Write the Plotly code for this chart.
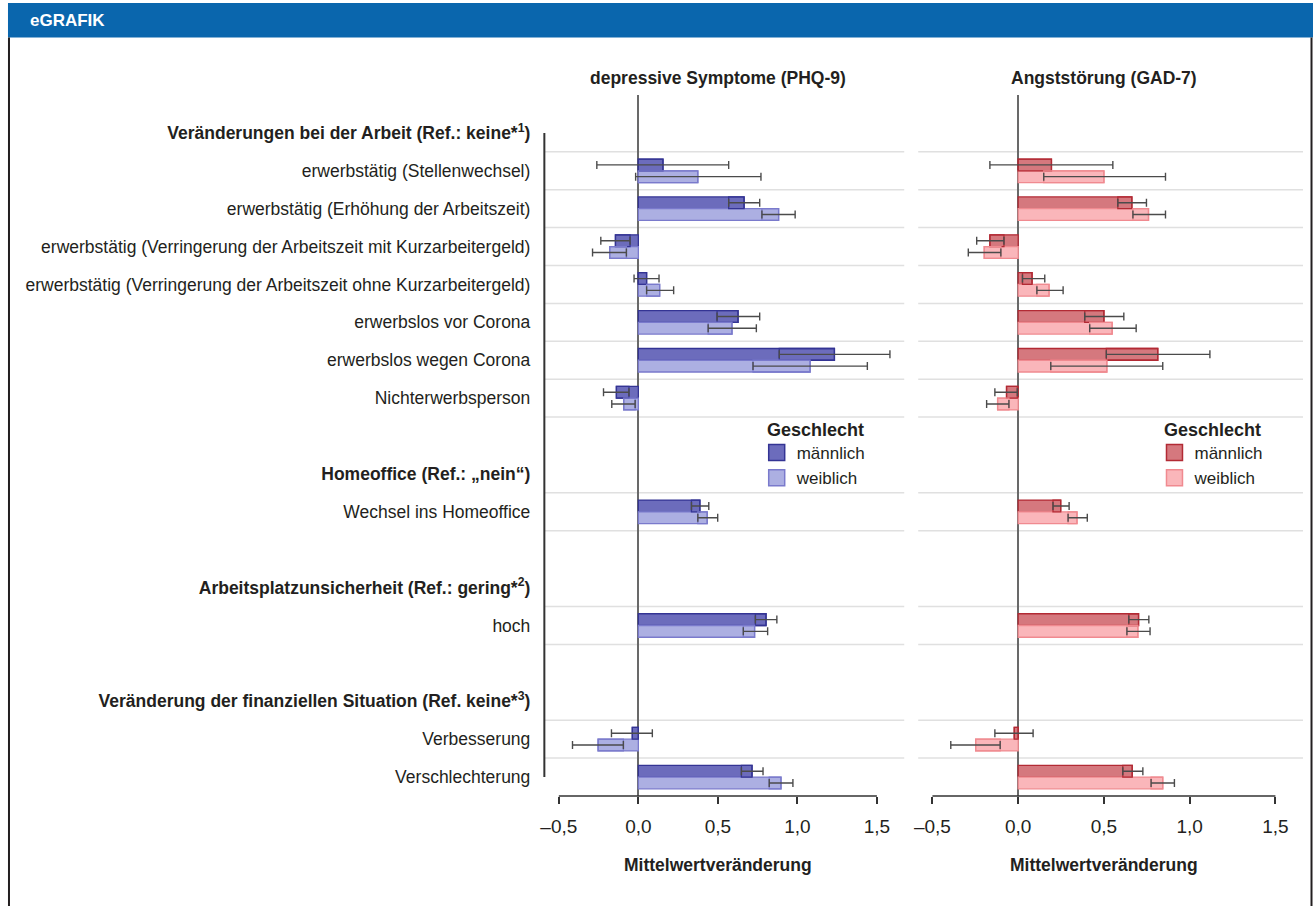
import plotly.graph_objects as go

W, H = 1313, 906

# ---------------- data ----------------
groups = [
    "<b>Veränderungen bei der Arbeit (Ref.: keine*<sup>1</sup>)</b>",
    "<b>Homeoffice (Ref.: „nein“)</b>",
    "<b>Arbeitsplatzunsicherheit (Ref.: gering*<sup>2</sup>)</b>",
    "<b>Veränderung der finanziellen Situation (Ref. keine*<sup>3</sup>)</b>",
]
categories = [
    "erwerbstätig (Stellenwechsel)",
    "erwerbstätig (Erhöhung der Arbeitszeit)",
    "erwerbstätig (Verringerung der Arbeitszeit mit Kurzarbeitergeld)",
    "erwerbstätig (Verringerung der Arbeitszeit ohne Kurzarbeitergeld)",
    "erwerbslos vor Corona",
    "erwerbslos wegen Corona",
    "Nichterwerbsperson",
    "Wechsel ins Homeoffice",
    "hoch",
    "Verbesserung",
    "Verschlechterung",
]
category_group = [0, 0, 0, 0, 0, 0, 0, 1, 2, 3, 3]

# PHQ-9 (depressive Symptome)
phq_m = [0.155, 0.665, -0.144, 0.052, 0.627, 1.233, -0.138, 0.387, 0.803, -0.038, 0.715]
phq_m_lo = [-0.261, 0.568, -0.236, -0.027, 0.495, 0.886, -0.219, 0.334, 0.736, -0.169, 0.648]
phq_m_hi = [0.568, 0.763, -0.052, 0.130, 0.763, 1.582, -0.059, 0.443, 0.871, 0.088, 0.784]
phq_w = [0.374, 0.882, -0.180, 0.134, 0.589, 1.080, -0.092, 0.433, 0.731, -0.253, 0.897]
phq_w_lo = [-0.017, 0.777, -0.288, 0.052, 0.439, 0.721, -0.167, 0.374, 0.660, -0.414, 0.823]
phq_w_hi = [0.771, 0.986, -0.075, 0.222, 0.742, 1.440, -0.020, 0.499, 0.813, -0.094, 0.972]

# GAD-7 (Angststörung)
gad_m = [0.194, 0.663, -0.165, 0.081, 0.500, 0.814, -0.068, 0.248, 0.702, -0.023, 0.665]
gad_m_lo = [-0.165, 0.581, -0.242, 0.025, 0.388, 0.514, -0.136, 0.203, 0.645, -0.136, 0.610]
gad_m_hi = [0.552, 0.748, -0.083, 0.155, 0.616, 1.118, -0.005, 0.297, 0.762, 0.087, 0.727]
gad_w = [0.500, 0.760, -0.198, 0.180, 0.548, 0.517, -0.120, 0.343, 0.698, -0.248, 0.843]
gad_w_lo = [0.149, 0.669, -0.291, 0.109, 0.417, 0.190, -0.184, 0.291, 0.634, -0.393, 0.775]
gad_w_hi = [0.859, 0.859, -0.101, 0.262, 0.688, 0.843, -0.054, 0.403, 0.769, -0.105, 0.911]

panel_titles = ["depressive Symptome (PHQ-9)", "Angststörung (GAD-7)"]
x_tickvals = [-0.5, 0.0, 0.5, 1.0, 1.5]
x_ticktext = ["–0,5", "0,0", "0,5", "1,0", "1,5"]
x_title = "Mittelwertveränderung"
legend_title = "Geschlecht"
sex_names = ["männlich", "weiblich"]

# ---------------- build row layout (heading, items, blank) ----------------
row_text, cat_row = [], []
for gi, g in enumerate(groups):
    if gi > 0:
        row_text.append("")
    row_text.append(g)
    for ci, c in enumerate(categories):
        if category_group[ci] == gi:
            cat_row.append(len(row_text))
            row_text.append(c)
n_rows = len(row_text)
label_rows = [i for i, t in enumerate(row_text) if t]
label_text = [row_text[i] for i in label_rows]

FONT = "Liberation Sans, Arial, Helvetica, sans-serif"
TXT = "#231f20"
BW = 0.31

colors = {
    1: dict(m_fill="rgb(108,108,188)", m_line="rgb(52,52,148)",
            w_fill="rgb(172,175,226)", w_line="rgb(122,122,204)"),
    2: dict(m_fill="rgb(213,120,126)", m_line="rgb(178,42,52)",
            w_fill="rgb(250,182,186)", w_line="rgb(240,138,144)"),
}

fig = go.Figure()

def add_panel(p, m, mlo, mhi, w, wlo, whi):
    xa = "x" if p == 1 else "x2"
    ya = "y" if p == 1 else "y2"
    lg = "legend" if p == 1 else "legend2"
    c = colors[p]
    series = [
        (sex_names[0], m, mlo, mhi, -BW, c["m_fill"], c["m_line"]),
        (sex_names[1], w, wlo, whi, 0.0, c["w_fill"], c["w_line"]),
    ]
    for name, mean, lo, hi, off, fill, line in series:
        fig.add_trace(go.Bar(
            orientation="h", y=cat_row, x=mean, offset=off, width=BW,
            marker=dict(color=fill, line=dict(color=line, width=1.3)),
            name=name, showlegend=False, xaxis=xa, yaxis=ya, hoverinfo="skip"))
    for name, mean, lo, hi, off, fill, line in series:
        inner = [max(l, 0) if v >= 0 else min(h, 0) for v, l, h in zip(mean, lo, hi)]
        fig.add_trace(go.Bar(
            orientation="h", y=cat_row, x=[v - i for v, i in zip(mean, inner)], base=inner,
            offset=off, width=BW,
            marker=dict(color="rgba(0,0,0,0)", line=dict(color=line, width=1.3)),
            showlegend=False, xaxis=xa, yaxis=ya, hoverinfo="skip"))
        fig.add_trace(go.Scatter(
            x=mean, y=[r + off + BW / 2 for r in cat_row], mode="markers",
            marker=dict(size=1, color="rgba(0,0,0,0)"),
            error_x=dict(type="data", symmetric=False,
                         array=[h - v for v, h in zip(mean, hi)],
                         arrayminus=[v - l for v, l in zip(mean, lo)],
                         color="rgb(75,75,75)", thickness=1.4, width=4),
            showlegend=False, xaxis=xa, yaxis=ya, hoverinfo="skip"))
    # legend entries (square swatches)
    for name, mean, lo, hi, off, fill, line in series:
        fig.add_trace(go.Scatter(
            x=[None], y=[None], mode="markers", name=name, legend=lg,
            marker=dict(symbol="square", size=16, color=fill, line=dict(color=line, width=1.5)),
            xaxis=xa, yaxis=ya, hoverinfo="skip"))

add_panel(1, phq_m, phq_m_lo, phq_m_hi, phq_w, phq_w_lo, phq_w_hi)
add_panel(2, gad_m, gad_m_lo, gad_m_hi, gad_w, gad_w_lo, gad_w_hi)

def px(x):
    return x / W

def py(y):
    return 1 - y / H

y_top_px, y_bot_px = 95, 796
dom_y = [py(y_bot_px), py(y_top_px)]
yrange = [n_rows - 0.5, -1.0]

xcommon = dict(
    tickvals=x_tickvals, ticktext=x_ticktext, ticks="outside", ticklen=7,
    tickwidth=1.5, tickcolor="#333", showline=False, showgrid=False,
    zeroline=True, zerolinecolor="rgb(105,105,105)", zerolinewidth=1.6,
    tickfont=dict(family=FONT, size=19, color=TXT), ticklabelstandoff=6,
    fixedrange=True,
)

legend_common = dict(xanchor="left", yanchor="top", font=dict(size=17, color=TXT),
                     bgcolor="rgba(0,0,0,0)", traceorder="normal", itemsizing="trace")

fig.update_layout(
    width=W, height=H,
    margin=dict(l=0, r=0, t=0, b=0),
    paper_bgcolor="white", plot_bgcolor="rgba(0,0,0,0)",
    barmode="overlay",
    font=dict(family=FONT, color=TXT),
    xaxis=dict(domain=[px(542), px(903)], range=[-0.591, 1.672], anchor="y", **xcommon),
    xaxis2=dict(domain=[px(917), px(1303)], range=[-0.583, 1.661], anchor="y2", **xcommon),
    yaxis=dict(domain=dom_y, range=yrange, anchor="x", tickmode="array",
               tickvals=label_rows, ticktext=label_text, showgrid=False,
               zeroline=False, showline=False, ticks="", ticklabelstandoff=13,
               tickfont=dict(family=FONT, size=17.5, color=TXT), fixedrange=True),
    yaxis2=dict(domain=dom_y, range=yrange, anchor="x2", showticklabels=False,
                showgrid=False, zeroline=False, showline=False, fixedrange=True),
    legend=dict(x=px(755), y=py(435), **legend_common),
    legend2=dict(x=px(1154), y=py(435), **legend_common),
    showlegend=True,
)

shapes = []
# grid lines around rows carrying data
grid_y = set()
for r in cat_row:
    grid_y.add(r - 0.5)
    if r + 0.5 < n_rows - 1:
        grid_y.add(r + 0.5)
for xd, yd in [("x domain", "y"), ("x2 domain", "y2")]:
    for g in sorted(grid_y):
        shapes.append(dict(type="line", xref=xd, yref=yd, x0=0, x1=1, y0=g, y1=g,
                           line=dict(color="rgb(224,224,224)", width=1.5), layer="below"))
# left y-axis line (first to last row)
shapes.append(dict(type="line", xref="x domain", yref="y", x0=0, x1=0, y0=0, y1=n_rows - 1,
                   line=dict(color="#333", width=2)))
# x-axis lines spanning first to last tick
for xr, yd in [("x", "y domain"), ("x2", "y2 domain")]:
    shapes.append(dict(type="line", xref=xr, yref=yd, x0=x_tickvals[0], x1=x_tickvals[-1],
                       y0=0, y1=0, line=dict(color="#333", width=1.5)))
# header bar and frame
shapes.append(dict(type="rect", xref="paper", yref="paper", x0=px(4), x1=1, y0=py(37.5), y1=py(3),
                   fillcolor="#0a66ad", line=dict(width=0)))
shapes.append(dict(type="line", xref="paper", yref="paper", x0=px(5), x1=px(5), y0=0, y1=py(37.5),
                   line=dict(color="#231f20", width=2)))
shapes.append(dict(type="line", xref="paper", yref="paper", x0=px(1311.5), x1=px(1311.5), y0=0, y1=py(37.5),
                   line=dict(color="#231f20", width=2)))
fig.update_layout(shapes=shapes)

ann = [
    dict(text="<b>eGRAFIK</b>", xref="paper", yref="paper", x=px(24), y=py(20),
         xanchor="left", yanchor="middle", showarrow=False,
         font=dict(family=FONT, size=17, color="white")),
    dict(text="<b>" + legend_title + "</b>", xref="paper", yref="paper", x=px(763), y=py(430),
         xanchor="left", yanchor="middle", showarrow=False,
         font=dict(family=FONT, size=18, color=TXT)),
    dict(text="<b>" + legend_title + "</b>", xref="paper", yref="paper", x=px(1162), y=py(430),
         xanchor="left", yanchor="middle", showarrow=False,
         font=dict(family=FONT, size=18, color=TXT)),
]
for xr, t in [("x", panel_titles[0]), ("x2", panel_titles[1])]:
    ann.append(dict(text="<b>" + t + "</b>", xref=xr, yref="paper", x=0.5, y=py(78),
                    xanchor="center", yanchor="middle", showarrow=False,
                    font=dict(family=FONT, size=17.5, color=TXT)))
    ann.append(dict(text="<b>" + x_title + "</b>", xref=xr, yref="paper", x=0.5, y=py(865),
                    xanchor="center", yanchor="middle", showarrow=False,
                    font=dict(family=FONT, size=17.5, color=TXT)))
fig.update_layout(annotations=ann)

fig.write_html("out.html", config={"displayModeBar": False},
               post_script="document.body.style.margin='0px';")
